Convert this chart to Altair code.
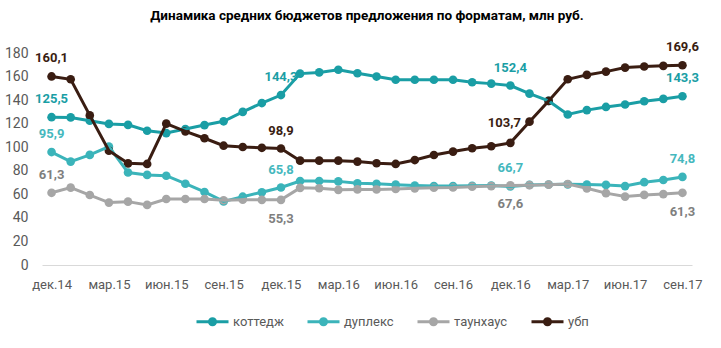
import altair as alt
import pandas as pd

months = ["дек.14", "янв.15", "фев.15", "мар.15", "апр.15", "май.15", "июн.15", "июл.15",
          "авг.15", "сен.15", "окт.15", "ноя.15", "дек.15", "янв.16", "фев.16", "мар.16",
          "апр.16", "май.16", "июн.16", "июл.16", "авг.16", "сен.16", "окт.16", "ноя.16",
          "дек.16", "янв.17", "фев.17", "мар.17", "апр.17", "май.17", "июн.17", "июл.17",
          "авг.17", "сен.17"]
tick_labels = ["дек.14", "мар.15", "июн.15", "сен.15", "дек.15", "мар.16", "июн.16",
               "сен.16", "дек.16", "мар.17", "июн.17", "сен.17"]

series_names = ["коттедж", "дуплекс", "таунхаус", "убп"]

kottedzh = [125.5, 125.3, 122.5, 119.8, 119.0, 114.0, 112.0, 115.5, 118.8, 122.0, 130.0, 137.5,
            144.3, 162.5, 163.5, 165.8, 162.8, 160.0, 157.3, 157.3, 157.3, 157.3, 155.2, 154.0,
            152.4, 145.5, 139.3, 127.8, 131.5, 134.2, 136.3, 139.0, 141.0, 143.3]
duplex = [95.9, 87.8, 93.5, 100.5, 78.5, 76.5, 75.8, 69.0, 62.0, 54.0, 58.0, 61.8,
          65.8, 71.3, 71.3, 71.0, 69.4, 69.0, 68.2, 67.5, 67.0, 67.0, 67.3, 67.5,
          66.7, 68.0, 68.3, 68.5, 68.3, 68.0, 67.0, 70.3, 72.2, 74.8]
townhouse = [61.3, 65.7, 59.4, 53.0, 53.8, 51.0, 56.0, 56.0, 56.0, 55.0, 55.5, 55.3,
             55.3, 65.5, 65.2, 63.8, 64.2, 64.2, 64.5, 65.1, 65.6, 65.8, 66.5, 67.0,
             67.6, 67.8, 68.2, 68.8, 65.1, 61.0, 58.1, 59.5, 60.2, 61.3]
ubp = [160.1, 157.7, 127.0, 97.1, 86.3, 85.8, 120.0, 113.5, 107.6, 101.3, 100.2, 99.5,
       98.9, 88.6, 88.6, 88.6, 87.8, 86.4, 85.8, 89.1, 93.4, 96.3, 99.1, 100.8,
       103.7, 121.7, 139.3, 157.7, 161.4, 164.2, 167.6, 168.5, 169.1, 169.6]

line_colors = ["#1A9EA5", "#3BB4BA", "#A6A6A6", "#3A1D12"]
label_colors = ["#1A9EA5", "#45B8BE", "#7F7F7F", "#3A1D12"]

labeled_idx = [0, 12, 24, 33]
below = {("таунхаус", 12), ("таунхаус", 24), ("таунхаус", 33)}
left_shift = {("убп", 24)}

rows = []
for s, vals, lc in zip(series_names, [kottedzh, duplex, townhouse, ubp], label_colors):
    for i, (m, v) in enumerate(zip(months, vals)):
        lab = f"{v:.1f}".replace(".", ",") if i in labeled_idx else ""
        if (s, i) in below:
            pos = "below"
        elif (s, i) in left_shift:
            pos = "aboveleft"
        else:
            pos = "above"
        rows.append({"month": m, "series": s, "value": v, "label": lab, "pos": pos, "lcolor": lc})
df = pd.DataFrame(rows)

FONT = "Roboto"

x_enc = alt.X("month:N", sort=months,
              scale=alt.Scale(type="point", padding=0.5),
              axis=alt.Axis(values=tick_labels, labelAngle=0, title=None, ticks=False,
                            domainColor="#D9D9D9", labelColor="#595959", labelFontSize=13,
                            labelFont=FONT, labelPadding=13, grid=False))
y_enc = alt.Y("value:Q", scale=alt.Scale(domain=[0, 180], nice=False),
              axis=alt.Axis(values=list(range(0, 181, 20)), title=None, ticks=False, domain=False,
                            grid=False, labelColor="#595959", labelFontSize=14, labelFont=FONT,
                            labelPadding=14))

legend_path = "M-1,0H1M0.19,0A0.19,0.19 0 1,1 -0.19,0A0.19,0.19 0 1,1 0.19,0Z"

color_enc = alt.Color("series:N",
                      scale=alt.Scale(domain=series_names, range=line_colors),
                      legend=alt.Legend(title=None, orient="none", direction="horizontal",
                                        legendX=153, legendY=251,
                                        symbolType=legend_path, symbolSize=1024,
                                        symbolStrokeWidth=3, labelFontSize=13,
                                        labelFont=FONT, labelColor="#595959",
                                        labelOffset=3, columnPadding=17, symbolOpacity=1),
                      sort=series_names)

base = alt.Chart(df)

lines = base.mark_line(strokeWidth=3).encode(x=x_enc, y=y_enc, color=color_enc)
points = base.mark_point(filled=True, size=75, opacity=1).encode(x=x_enc, y=y_enc, color=color_enc)


def label_layer(pos, dx, dy):
    return base.transform_filter(
        (alt.datum.label != "") & (alt.datum.pos == pos)
    ).mark_text(dx=dx, dy=dy, fontSize=13, fontWeight="bold", font=FONT).encode(
        x=x_enc, y=y_enc, text="label:N", color=alt.Color("lcolor:N", scale=None))


labels_above = label_layer("above", 0, -18)
labels_aboveleft = label_layer("aboveleft", -6, -20)
labels_below = label_layer("below", 0, 19)

chart = alt.layer(points, lines, labels_above, labels_aboveleft, labels_below).properties(
    width=650, height=212,
    title=alt.TitleParams("Динамика средних бюджетов  предложения по форматам, млн руб.",
                          fontSize=13.5, fontWeight="bold", font=FONT, color="#000000",
                          anchor="middle", offset=19),
    padding={"left": 42, "top": 53, "right": 29, "bottom": 83},
    autosize=alt.AutoSizeParams(type="none"),
).configure_view(stroke=None)

chart.save("out.html", embed_options={"renderer": "svg", "actions": False})
